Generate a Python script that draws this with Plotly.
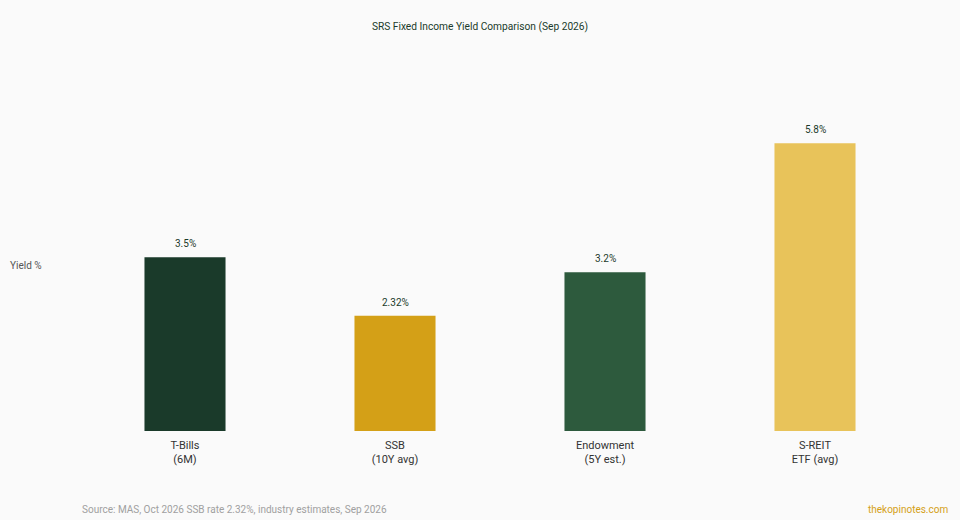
import plotly.graph_objects as go

# data
categories = ["T-Bills<br>(6M)", "SSB<br>(10Y avg)", "Endowment<br>(5Y est.)", "S-REIT<br>ETF (avg)"]
yields = [3.5, 2.32, 3.2, 5.8]
bar_labels = ["3.5%", "2.32%", "3.2%", "5.8%"]
bar_colors = ["#1a3a2a", "#d4a017", "#2d5a3d", "#e8c35a"]

fig = go.Figure()
fig.add_trace(go.Bar(
    x=categories, y=yields,
    marker=dict(color=bar_colors, line=dict(width=0)),
    width=0.386,
    hoverinfo="skip",
))

# value labels above the bars
for cat, val, lab in zip(categories, yields, bar_labels):
    fig.add_annotation(x=cat, y=val, text=lab, showarrow=False,
                       yanchor="bottom", yshift=6,
                       font=dict(size=10, color="#1a3a2a"))

fig.update_layout(
    width=960, height=520,
    paper_bgcolor="#fafafa", plot_bgcolor="#fafafa",
    font=dict(family="Roboto, Inter, sans-serif", size=11, color="#333333"),
    margin=dict(l=80, r=40, t=100, b=89),
    title=dict(text="SRS Fixed Income Yield Comparison (Sep 2026)",
               x=0.5, xanchor="center", y=0.95, yanchor="middle",
               font=dict(size=10.2, color="#1a3a2a")),
    showlegend=False,
)
fig.update_xaxes(showgrid=False, showline=False, zeroline=False, ticks="",
                 ticklabelstandoff=6,
                 tickfont=dict(size=11, color="#333333"))
fig.update_yaxes(range=[0, 6.67], showgrid=False, showline=False, zeroline=False,
                 showticklabels=False, ticks="")

# y label, footer
fig.add_annotation(text="Yield %", xref="paper", yref="paper", x=-0.086, y=0.5,
                   xanchor="left", yanchor="middle", showarrow=False,
                   font=dict(size=10, color="#555555"))
fig.add_annotation(text="Source: MAS, Oct 2026 SSB rate 2.32%, industry estimates, Sep 2026",
                   xref="paper", yref="paper", x=0, y=-0.236, xanchor="left", yanchor="middle",
                   showarrow=False, font=dict(size=10, color="#a0a0a0"))
fig.add_annotation(text="thekopinotes.com", xref="paper", yref="paper", x=1.036, y=-0.236,
                   xanchor="right", yanchor="middle", showarrow=False,
                   font=dict(size=10, color="#d4a017"))

fig.write_html("out.html", config={"displayModeBar": False},
               post_script="document.body.style.margin='0';")
